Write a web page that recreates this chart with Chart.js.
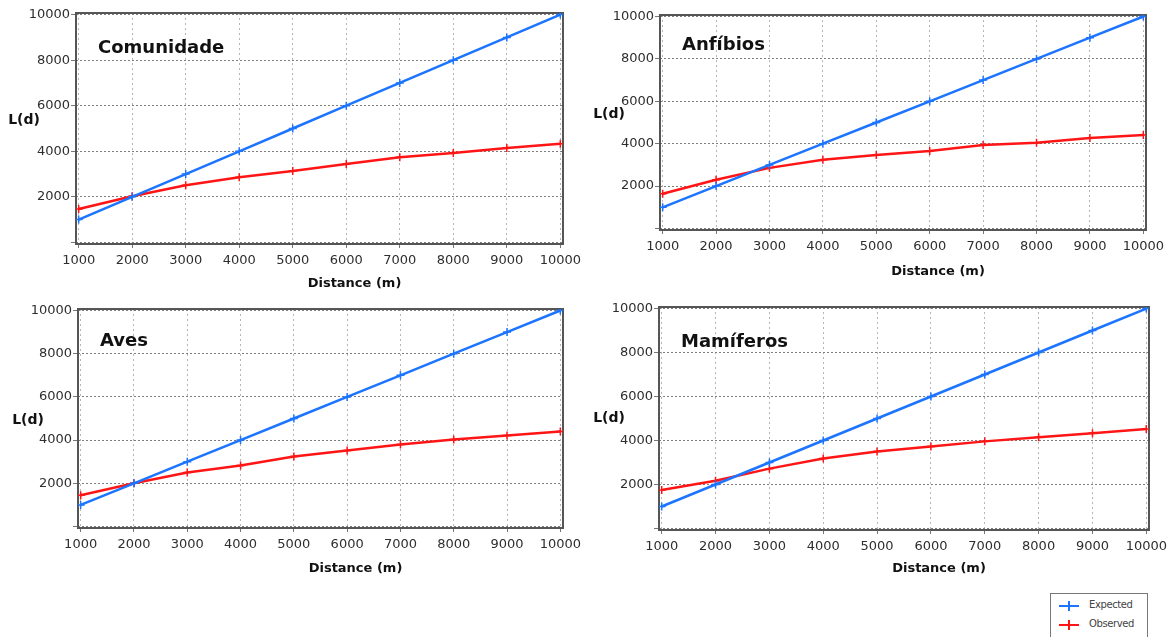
<!DOCTYPE html>
<html>
<head>
<meta charset="utf-8">
<script src="https://cdn.jsdelivr.net/npm/chart.js@4.4.1/dist/chart.umd.min.js"></script>
<style>
  body { margin: 0; background: #fff; width: 1173px; height: 637px; overflow: hidden; position: relative; font-family: "DejaVu Sans", sans-serif; }
  canvas { position: absolute; }
  #legend { position: absolute; left: 1050px; top: 593px; width: 98px; height: 50px; border: 1px solid #777; box-sizing: border-box; font-size: 10px; color: #444; }
  .item { position: absolute; left: 8px; height: 12px; }
  .swatch { position: absolute; left: 0; top: 5px; width: 20px; height: 2px; }
  .tick { position: absolute; left: 9px; top: 1px; width: 2px; height: 10px; }
  .lbl { position: absolute; left: 30px; top: -1px; letter-spacing: -0.4px; }
</style>
</head>
<body>
<canvas id="c1" width="585" height="300" style="left:0;top:0"></canvas>
<canvas id="c2" width="588" height="300" style="left:585px;top:0"></canvas>
<canvas id="c3" width="585" height="300" style="left:0;top:290px"></canvas>
<canvas id="c4" width="588" height="300" style="left:585px;top:290px"></canvas>
<div id="legend">
  <div class="item" style="top:6px"><span class="swatch" id="sw1"></span><span class="tick" id="tk1"></span><span class="lbl">Expected</span></div>
  <div class="item" style="top:25px"><span class="swatch" id="sw2"></span><span class="tick" id="tk2"></span><span class="lbl">Observed</span></div>
</div>
<script>
const distances = [1000, 2000, 3000, 4000, 5000, 6000, 7000, 8000, 9000, 10000];
const expected = [1000, 2000, 3000, 4000, 5000, 6000, 7000, 8000, 9000, 10000];
const obsComunidade = [1470, 2030, 2510, 2860, 3130, 3440, 3740, 3920, 4140, 4330];
const obsAnfibios = [1640, 2300, 2860, 3240, 3470, 3660, 3940, 4040, 4270, 4410];
const obsAves = [1450, 2000, 2500, 2820, 3240, 3520, 3800, 4030, 4210, 4400];
const obsMamiferos = [1750, 2170, 2720, 3180, 3500, 3730, 3960, 4150, 4330, 4520];
const yTicks = [0, 2000, 4000, 6000, 8000, 10000];
const xTicks = distances;

const blue = '#1c74ff';
const red = '#ff1515';

document.getElementById('sw1').style.background = blue;
document.getElementById('tk1').style.background = blue;
document.getElementById('sw2').style.background = red;
document.getElementById('tk2').style.background = red;

// panel layout: y scale width, paddings, x scale height, label positions (canvas coords)
const panels = [
  { id: 'c1', name: 'Comunidade', obs: obsComunidade, yW: 76, padR: 22, padT: 13, xH: 56, titleY: 284, ldX: 24, ldY: 120, nameDy: 35 },
  { id: 'c2', name: 'Anfíbios', obs: obsAnfibios, yW: 75, padR: 27, padT: 15, xH: 70, titleY: 272, ldX: 24, ldY: 114, nameDy: 30 },
  { id: 'c3', name: 'Aves', obs: obsAves, yW: 78, padR: 22, padT: 19, xH: 62, titleY: 279, ldX: 28, ldY: 130, nameDy: 32 },
  { id: 'c4', name: 'Mamíferos', obs: obsMamiferos, yW: 74, padR: 24, padT: 17, xH: 60, titleY: 279, ldX: 24, ldY: 128, nameDy: 35 }
];

const textPlugin = {
  id: 'panelText',
  beforeDatasetsDraw(chart, args, opts) {
    const a = chart.chartArea;
    const ctx = chart.ctx;
    ctx.save();
    ctx.strokeStyle = '#555';
    ctx.lineWidth = 2;
    ctx.strokeRect(a.left, a.top, a.right - a.left, a.bottom - a.top);
    ctx.restore();
  },
  afterDraw(chart, args, opts) {
    const a = chart.chartArea;
    const ctx = chart.ctx;
    ctx.save();
    ctx.fillStyle = '#111';
    ctx.textBaseline = 'middle';
    ctx.font = 'bold 18px "DejaVu Sans"';
    ctx.textAlign = 'left';
    ctx.fillText(opts.name, a.left + 22, a.top + opts.nameDy);
    ctx.font = 'bold 14px "DejaVu Sans"';
    ctx.textAlign = 'center';
    ctx.fillText('L(d)', opts.ldX, opts.ldY);
    ctx.font = 'bold 13px "DejaVu Sans"';
    ctx.fillText('Distance (m)', (a.left + a.right) / 2 + 35, opts.titleY);
    ctx.restore();
  }
};

panels.forEach(p => {
  new Chart(document.getElementById(p.id), {
    type: 'line',
    data: {
      datasets: [
        {
          label: 'Expected',
          data: distances.map((d, i) => ({ x: d, y: expected[i] })),
          borderColor: blue,
          backgroundColor: blue,
          borderWidth: 2.5,
          pointStyle: 'cross',
          pointRadius: 4,
          pointBorderWidth: 1.5,
          tension: 0
        },
        {
          label: 'Observed',
          data: distances.map((d, i) => ({ x: d, y: p.obs[i] })),
          borderColor: red,
          backgroundColor: red,
          borderWidth: 2.5,
          pointStyle: 'cross',
          pointRadius: 4,
          pointBorderWidth: 1.5,
          tension: 0
        }
      ]
    },
    options: {
      responsive: false,
      animation: false,
      layout: { padding: { left: 0, right: p.padR, top: p.padT, bottom: 0 } },
      plugins: {
        legend: { display: false },
        tooltip: { enabled: false },
        panelText: { name: p.name, titleY: p.titleY, ldX: p.ldX, ldY: p.ldY, nameDy: p.nameDy }
      },
      scales: {
        x: {
          type: 'linear',
          min: 950,
          max: 10050,
          afterBuildTicks: s => { s.ticks = xTicks.map(v => ({ value: v })); },
          afterFit: s => { s.height = p.xH; s.paddingLeft = 0; s.paddingRight = 0; },
          border: { display: false, dash: [2, 3] },
          grid: { color: '#b5b5b5', lineWidth: 1, tickLength: 4, tickColor: '#777', tickBorderDash: [] },
          ticks: { autoSkip: false, maxRotation: 0, padding: 5, color: '#2e2e2e', font: { family: 'DejaVu Sans', size: 13 }, callback: v => String(v) }
        },
        y: {
          min: -70,
          max: 10070,
          afterBuildTicks: s => { s.ticks = yTicks.map(v => ({ value: v })); },
          afterFit: s => { s.width = p.yW; s.paddingTop = 0; s.paddingBottom = 0; },
          border: { display: false, dash: [2, 2] },
          grid: { color: '#7d7d7d', lineWidth: 1, tickLength: 5, tickColor: '#777', tickBorderDash: [] },
          ticks: { padding: 1, color: '#2e2e2e', font: { family: 'DejaVu Sans', size: 13 }, callback: v => v === 0 ? '' : String(v) }
        }
      }
    },
    plugins: [textPlugin]
  });
});
</script>
</body>
</html>
